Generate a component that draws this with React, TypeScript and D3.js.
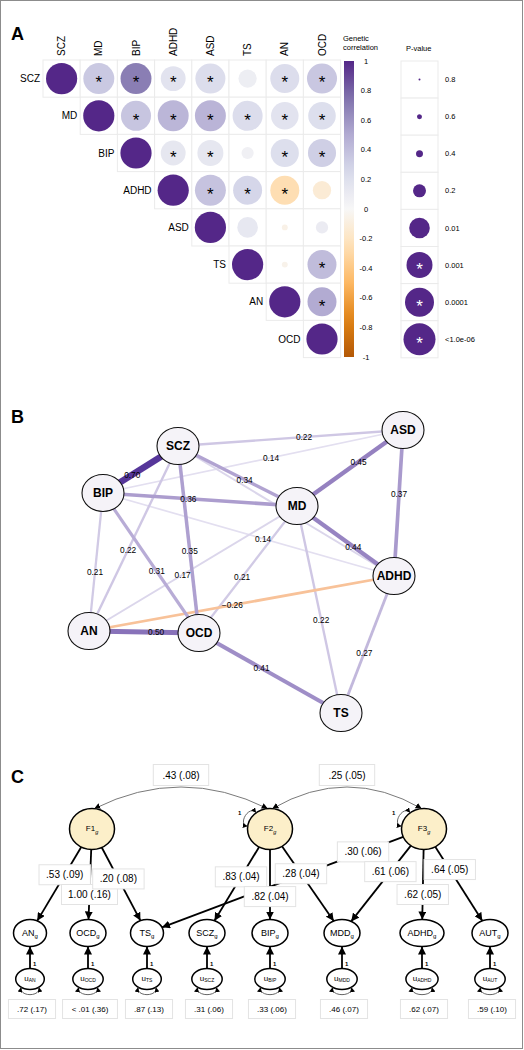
import React from "react";
import * as d3 from "d3";

const FONT = "'Liberation Sans', Arial, Helvetica, sans-serif";

// ---------- Panel A data ----------
const traits = ["SCZ", "MD", "BIP", "ADHD", "ASD", "TS", "AN", "OCD"];
// upper-triangle rows, starting at the diagonal
const rgSCZ = [1, 0.34, 0.7, 0.17, 0.22, 0.08, 0.22, 0.35];
const rgMD = [1, 0.36, 0.44, 0.45, 0.22, 0.17, 0.21];
const rgBIP = [1, 0.14, 0.14, 0.06, 0.21, 0.31];
const rgADHD = [1, 0.37, 0.27, -0.26, -0.13];
const rgASD = [1, 0.13, -0.06, 0.1];
const rgTS = [1, -0.05, 0.41];
const rgAN = [1, 0.5];
const rgOCD = [1];
const pSCZ = [0, 5e-6, 5e-6, 1.6e-3, 2e-5, 0.025, 1e-4, 2e-5];
const pMD = [0, 2e-5, 5e-6, 5e-6, 2e-5, 3e-4, 3e-4];
const pBIP = [0, 1.6e-3, 1e-3, 0.22, 2e-4, 2e-4];
const pADHD = [0, 5e-6, 1e-4, 1e-4, 0.025];
const pASD = [0, 0.01, 0.5, 0.22];
const pTS = [0, 0.5, 1e-4];
const pAN = [0, 1e-4];
const pOCD = [0];
const corrTicks = [1, 0.8, 0.6, 0.4, 0.2, 0, -0.2, -0.4, -0.6, -0.8, -1];
const pLegendValues = [0.8, 0.6, 0.4, 0.2, 0.01, 0.001, 0.0001, 1e-7];
const pLegendLabels = ["0.8", "0.6", "0.4", "0.2", "0.01", "0.001", "0.0001", "<1.0e-06"];
const puorColors = ["#b35806", "#e08214", "#fdb863", "#fee0b6", "#f7f7f7", "#d8daeb", "#b2abd2", "#8073ac", "#542788"];

// ---------- Panel B data ----------
const netNodes = ["SCZ", "ASD", "BIP", "MD", "ADHD", "AN", "OCD", "TS"];
const netFrom = ["SCZ", "AN", "TS", "SCZ", "BIP", "SCZ", "MD", "MD", "ADHD", "MD", "SCZ", "SCZ", "BIP", "BIP", "BIP", "MD", "MD", "MD", "ADHD", "ADHD", "SCZ"];
const netTo = ["BIP", "OCD", "OCD", "ASD", "ASD", "MD", "ASD", "BIP", "ASD", "ADHD", "OCD", "AN", "AN", "OCD", "ADHD", "AN", "OCD", "TS", "AN", "TS", "ADHD"];
const netWeight = [0.7, 0.5, 0.41, 0.22, 0.14, 0.34, 0.45, 0.36, 0.37, 0.44, 0.35, 0.22, 0.21, 0.31, 0.14, 0.17, 0.21, 0.22, -0.26, 0.27, 0.17];

// ---------- Panel C data ----------
const latentNames = ["F1", "F2", "F3"];
const observedNames = ["AN", "OCD", "TS", "SCZ", "BIP", "MDD", "ADHD", "AUT"];
const residualNames = ["AN", "OCD", "TS", "SCZ", "BIP", "MDD", "ADHD", "AUT"];
const loadingFrom = ["F1", "F1", "F1", "F2", "F2", "F2", "F3", "F3", "F3", "F3"];
const loadingTo = ["AN", "OCD", "TS", "SCZ", "BIP", "MDD", "TS", "MDD", "ADHD", "AUT"];
const loadingLabels = [".53 (.09)", "1.00 (.16)", ".20 (.08)", ".83 (.04)", ".82 (.04)", ".28 (.04)", ".30 (.06)", ".61 (.06)", ".62 (.05)", ".64 (.05)"];
const residualLabels = [".72 (.17)", "< .01 (.36)", ".87 (.13)", ".31 (.06)", ".33 (.06)", ".46 (.07)", ".62 (.07)", ".59 (.10)"];
const covFrom = ["F1", "F2"];
const covTo = ["F2", "F3"];
const covLabels = [".43 (.08)", ".25 (.05)"];
const selfLoopLatents = ["F2", "F3"];

// ---------- Layout (not data) ----------
const netPos: Record<string, [number, number]> = {
  SCZ: [178, 446], ASD: [403, 430], BIP: [103, 493], MD: [297, 506],
  ADHD: [394, 576], AN: [89, 631], OCD: [199, 633], TS: [341, 713],
};
const netLabelT = [0.61, 0.61, 0.56, 0.56, 0.56, 0.56, 0.58, 0.56, 0.56, 0.58, 0.56, 0.56, 0.57, 0.56, 0.55, 0.55, 0.56, 0.55, 0.53, 0.56, 0.56];
const latentX: Record<string, number> = { F1: 92, F2: 270, F3: 424 };
const latentY = 829;
const observedX = [30, 88, 147, 207, 270, 342, 422, 490];
const observedY = 933;
const residualY = 979;
const loadingLabelT = [0.44, 0.63, 0.48, 0.46, 0.65, 0.43, 0.22, 0.41, 0.63, 0.39];

function ellPt(cx: number, cy: number, rx: number, ry: number, tx: number, ty: number): [number, number] {
  const dx = tx - cx, dy = ty - cy;
  const s = 1 / Math.sqrt((dx / rx) ** 2 + (dy / ry) ** 2);
  return [cx + dx * s, cy + dy * s];
}
function angPt(cx: number, cy: number, rx: number, ry: number, deg: number, extra = 0): [number, number] {
  const a = (deg * Math.PI) / 180;
  return [cx + (rx + extra) * Math.cos(a), cy + (ry + extra) * Math.sin(a)];
}

const color = d3
  .scaleLinear<string>()
  .domain(d3.range(9).map((i) => -1 + i * 0.25))
  .range(puorColors)
  .interpolate(d3.interpolateRgb);

const radius = d3
  .scaleLinear()
  .domain([0.097, 0.222, 0.398, 0.699, 2, 3, 4, 6])
  .range([1, 2.5, 3.5, 6.5, 10.3, 13, 14.5, 16])
  .clamp(true);
const rOfP = (p: number) => (p <= 0 ? 15.6 : radius(-Math.log10(p)));
const starThreshold = 0.05 / 28;

function PanelA() {
  const rgRows = [rgSCZ, rgMD, rgBIP, rgADHD, rgASD, rgTS, rgAN, rgOCD];
  const pRows = [pSCZ, pMD, pBIP, pADHD, pASD, pTS, pAN, pOCD];
  const cellSize = 37.2;
  const x = d3.scaleBand().domain(traits).range([43, 43 + 8 * cellSize]);
  const y = d3.scaleBand().domain(traits).range([60, 60 + 8 * cellSize]);
  const cells: { i: number; j: number; rg: number; p: number }[] = [];
  rgRows.forEach((row, i) =>
    row.forEach((v, k) => cells.push({ i, j: i + k, rg: v, p: pRows[i][k] }))
  );
  const bw = x.bandwidth();
  const cy = d3.scaleLinear().domain([1, -1]).range([61, 357]);
  const gradStops = d3.range(0, 21).map((k) => 1 - k * 0.1);
  const py = d3.scaleBand().domain(pLegendLabels).range([61, 61 + 8 * 37.1]);
  return (
    <g>
      <defs>
        <linearGradient id="rgGrad" x1="0" y1="0" x2="0" y2="1">
          {gradStops.map((v, k) => (
            <stop key={k} offset={k / 20} stopColor={color(v)} />
          ))}
        </linearGradient>
      </defs>
      <text x={11} y={40} fontSize={18} fontWeight="bold">A</text>
      {traits.map((t) => (
        <text key={"c" + t} transform={`translate(${x(t)! + bw / 2},56) rotate(-90)`} fontSize={10} dy="0.35em">{t}</text>
      ))}
      {traits.map((t, i) => (
        <text key={"r" + t} x={x(t)! - 3} y={y(t)! + bw / 2} fontSize={10} textAnchor="end" dy="0.35em">{t}</text>
      ))}
      {cells.map((c, k) => {
        const xx = x(traits[c.j])!, yy = y(traits[c.i])!;
        const r = rOfP(c.p);
        const star = c.i !== c.j && c.p < starThreshold;
        return (
          <g key={k}>
            <rect x={xx} y={yy} width={bw} height={bw} fill="#fff" stroke="#ebebeb" strokeWidth={1} />
            <circle cx={xx + bw / 2} cy={yy + bw / 2} r={r} fill={color(c.rg)} />
            {star && (
              <text x={xx + bw / 2} y={yy + bw / 2} fontSize={17} textAnchor="middle" dy="0.58em">*</text>
            )}
          </g>
        );
      })}
      {/* colour legend */}
      <text x={343} y={41} fontSize={7.5}>Genetic</text>
      <text x={343} y={50} fontSize={7.5}>correlation</text>
      <rect x={344} y={61} width={10} height={296} fill="url(#rgGrad)" />
      {corrTicks.map((v) => (
        <text key={v} x={366} y={cy(v)} fontSize={7.5} textAnchor="middle" dy="0.35em">{d3.format("")(v).replace("−", "-")}</text>
      ))}
      {/* p-value legend */}
      <text x={406} y={51} fontSize={7.5}>P-value</text>
      {pLegendLabels.map((lab, k) => {
        const yy = py(lab)!;
        const h = py.bandwidth();
        const p = pLegendValues[k];
        return (
          <g key={lab}>
            <rect x={401} y={yy} width={37} height={h} fill="#fff" stroke="#ebebeb" />
            <circle cx={419.5} cy={yy + h / 2} r={rOfP(p)} fill="#542788" />
            {p < starThreshold && (
              <text x={419.5} y={yy + h / 2} fontSize={17} fill="#fff" textAnchor="middle" dy="0.58em">*</text>
            )}
            <text x={445} y={yy + h / 2} fontSize={7.5} dy="0.35em">{lab}</text>
          </g>
        );
      })}
    </g>
  );
}

function PanelB() {
  const rx = 21, ry = 18.5;
  const widthScale = d3.scaleLinear().domain([0.14, 0.7]).range([1.7, 6.5]);
  const posColor = d3.scaleLinear<string>().domain([0.14, 0.7]).range(["#e3dff0", "#56369a"]).interpolate(d3.interpolateRgb);
  const edges = netFrom.map((f, k) => ({ f, t: netTo[k], w: netWeight[k], lt: netLabelT[k] }));
  const order = d3.range(edges.length).sort((a, b) => Math.abs(edges[a].w) - Math.abs(edges[b].w));
  const fmt = d3.format(".2f");
  return (
    <g>
      <text x={11} y={423} fontSize={18} fontWeight="bold">B</text>
      {order.map((k) => {
        const e = edges[k];
        const [x1, y1] = netPos[e.f];
        const [x2, y2] = netPos[e.t];
        return (
          <line key={k} x1={x1} y1={y1} x2={x2} y2={y2}
            stroke={e.w < 0 ? "#f8c299" : posColor(Math.abs(e.w))}
            strokeWidth={widthScale(Math.abs(e.w))} />
        );
      })}
      {edges.map((e, k) => {
        const [x1, y1] = netPos[e.f];
        const [x2, y2] = netPos[e.t];
        return (
          <text key={k} x={x1 + (x2 - x1) * e.lt} y={y1 + (y2 - y1) * e.lt} fontSize={8.3} textAnchor="middle" dy="0.35em">
            {fmt(e.w)}
          </text>
        );
      })}
      {netNodes.map((n) => (
        <g key={n}>
          <ellipse cx={netPos[n][0]} cy={netPos[n][1]} rx={rx} ry={ry} fill="#f5f3f8" stroke="#111" strokeWidth={1.1} />
          <text x={netPos[n][0]} y={netPos[n][1]} fontSize={12} fontWeight="bold" textAnchor="middle" dy="0.36em">{n}</text>
        </g>
      ))}
    </g>
  );
}

function PanelC() {
  const Frx = 22.5, Fry = 20.5;
  const obsRx = (n: string) => (n.length >= 4 ? 22 : n.length === 3 ? 18 : 16.5);
  const obsRy = 13.5;
  const resRx = (n: string) => 12.5 + 0.9 * n.length;
  const resRy = 10.5;
  const obsIndex = (n: string) => observedNames.indexOf(n);
  const boxW = (s: string) => s.length * 4.6 + 10;
  return (
    <g>
      <defs>
        <marker id="arrowBig" viewBox="0 0 10 10" refX="10" refY="5" markerWidth="8" markerHeight="8" markerUnits="userSpaceOnUse" orient="auto-start-reverse">
          <path d="M0,0L10,5L0,10z" fill="#000" />
        </marker>
        <marker id="arrowSmall" viewBox="0 0 10 10" refX="10" refY="5" markerWidth="5" markerHeight="5" markerUnits="userSpaceOnUse" orient="auto-start-reverse">
          <path d="M0,0L10,5L0,10z" fill="#000" />
        </marker>
        <marker id="arrowCov" viewBox="0 0 10 10" refX="10" refY="5" markerWidth="6" markerHeight="6" markerUnits="userSpaceOnUse" orient="auto-start-reverse">
          <path d="M0,0L10,5L0,10z" fill="#000" />
        </marker>
      </defs>
      <text x={11} y={783} fontSize={18} fontWeight="bold">C</text>

      {/* covariance arcs */}
      {covFrom.map((f, k) => {
        const t = covTo[k];
        const [x1, y1] = angPt(latentX[f], latentY, Frx, Fry, -84);
        const [x2, y2] = angPt(latentX[t], latentY, Frx, Fry, -96);
        const mx = (x1 + x2) / 2;
        const peak = 787;
        const cyc = 2 * peak - (y1 + y2) / 2;
        return (
          <path key={k} d={`M${x1},${y1} Q${mx},${cyc} ${x2},${y2}`} fill="none" stroke="#7a7a7a" strokeWidth={1}
            markerStart="url(#arrowCov)" markerEnd="url(#arrowCov)" />
        );
      })}

      {/* loadings */}
      {loadingFrom.map((f, k) => {
        const oi = obsIndex(loadingTo[k]);
        const ox = observedX[oi];
        const orx = obsRx(loadingTo[k]);
        const fx = latentX[f];
        const [x1, y1] = ellPt(fx, latentY, Frx, Fry, ox, observedY);
        const [x2, y2] = ellPt(ox, observedY, orx, obsRy, fx, latentY);
        return <line key={k} x1={x1} y1={y1} x2={x2} y2={y2} stroke="#000" strokeWidth={1.8} markerEnd="url(#arrowBig)" />;
      })}

      {/* residual arrows */}
      {residualNames.map((n, k) => {
        const ox = observedX[k];
        return (
          <g key={n}>
            <line x1={ox} y1={residualY - resRy} x2={ox} y2={observedY + obsRy} stroke="#000" strokeWidth={1.8} markerEnd="url(#arrowBig)" />
            <text x={ox + 3} y={966} fontSize={6} fontWeight="bold">1</text>
          </g>
        );
      })}

      {/* loading label boxes */}
      {loadingFrom.map((f, k) => {
        const oi = obsIndex(loadingTo[k]);
        const ox = observedX[oi];
        const fx = latentX[f];
        const t = loadingLabelT[k];
        const lx = fx + (ox - fx) * t;
        const ly = latentY + (observedY - latentY) * t;
        const w = boxW(loadingLabels[k]);
        return (
          <g key={k}>
            <rect x={lx - w / 2} y={ly - 10} width={w} height={20} fill="#fff" stroke="#e3e3e3" />
            <text x={lx} y={ly} fontSize={10} textAnchor="middle" dy="0.35em">{loadingLabels[k]}</text>
          </g>
        );
      })}

      {/* covariance labels */}
      {covFrom.map((f, k) => {
        const mx = (latentX[f] + latentX[covTo[k]]) / 2;
        const w = boxW(covLabels[k]) + 4;
        const ly = 775;
        return (
          <g key={k}>
            <rect x={mx - w / 2} y={ly - 10.5} width={w} height={21} fill="#fff" stroke="#e3e3e3" />
            <text x={mx} y={ly} fontSize={10} textAnchor="middle" dy="0.35em">{covLabels[k]}</text>
          </g>
        );
      })}

      {/* latent factors */}
      {latentNames.map((n) => (
        <g key={n}>
          <ellipse cx={latentX[n]} cy={latentY} rx={Frx} ry={Fry} fill="#fcefc9" stroke="#000" strokeWidth={1.5} />
          <text x={latentX[n]} y={latentY} fontSize={8} textAnchor="middle" dy="0.3em">
            {n}
            <tspan fontSize={5.5} dy={2.5} fontStyle="italic">g</tspan>
          </text>
        </g>
      ))}
      {/* variance self loops on F2, F3 */}
      {selfLoopLatents.map((n) => {
        const cx = latentX[n];
        const p0 = angPt(cx, latentY, Frx, Fry, -128);
        const p3 = angPt(cx, latentY, Frx, Fry, -172);
        const c1 = angPt(cx, latentY, Frx, Fry, -128, 11);
        const c2 = angPt(cx, latentY, Frx, Fry, -172, 11);
        return (
          <g key={n}>
            <path d={`M${p0[0]},${p0[1]} C${c1[0]},${c1[1]} ${c2[0]},${c2[1]} ${p3[0]},${p3[1]}`} fill="none" stroke="#555" strokeWidth={0.9}
              markerStart="url(#arrowSmall)" markerEnd="url(#arrowSmall)" />
            <text x={cx - 32} y={latentY - 14} fontSize={6} fontWeight="bold">1</text>
          </g>
        );
      })}

      {/* observed */}
      {observedNames.map((n, k) => (
        <g key={n}>
          <ellipse cx={observedX[k]} cy={observedY} rx={obsRx(n)} ry={obsRy} fill="#fff" stroke="#000" strokeWidth={1.5} />
          <text x={observedX[k]} y={observedY} fontSize={9} textAnchor="middle" dy="0.3em">
            {n}
            <tspan fontSize={6} dy={2.5}>g</tspan>
          </text>
        </g>
      ))}

      {/* residuals */}
      {residualNames.map((n, k) => {
        const cx = observedX[k];
        const rx = resRx(n);
        const p0 = angPt(cx, residualY, rx, resRy, 128);
        const p3 = angPt(cx, residualY, rx, resRy, 52);
        const c1 = angPt(cx, residualY, rx, resRy, 118, 10);
        const c2 = angPt(cx, residualY, rx, resRy, 62, 10);
        const w = residualLabels[k].length * 3.9 + 12;
        return (
          <g key={n}>
            <ellipse cx={cx} cy={residualY} rx={rx} ry={resRy} fill="#fff" stroke="#000" strokeWidth={1.5} />
            <text x={cx} y={residualY} fontSize={8} textAnchor="middle" dy="0.2em">
              u<tspan fontSize={5} dy={1.5}>{n}</tspan>
            </text>
            <path d={`M${p0[0]},${p0[1]} C${c1[0]},${c1[1]} ${c2[0]},${c2[1]} ${p3[0]},${p3[1]}`} fill="none" stroke="#555" strokeWidth={0.9}
              markerStart="url(#arrowSmall)" markerEnd="url(#arrowSmall)" />
            <rect x={cx + 2 - w / 2} y={999.5} width={w} height={19} fill="#fff" stroke="#e3e3e3" />
            <text x={cx + 2} y={1009} fontSize={8} textAnchor="middle" dy="0.35em">{residualLabels[k]}</text>
          </g>
        );
      })}
    </g>
  );
}

export default function App() {
  return (
    <svg width={524} height={1050} style={{ position: "absolute", left: 0, top: 0, background: "#fff" }} fontFamily={FONT}>
      <rect x={0} y={0} width={524} height={1050} fill="#fff" />
      <PanelA />
      <PanelB />
      <PanelC />
      <rect x={0.5} y={0.5} width={522} height={1048} fill="none" stroke="#8c8c8c" strokeWidth={1} />
    </svg>
  );
}
